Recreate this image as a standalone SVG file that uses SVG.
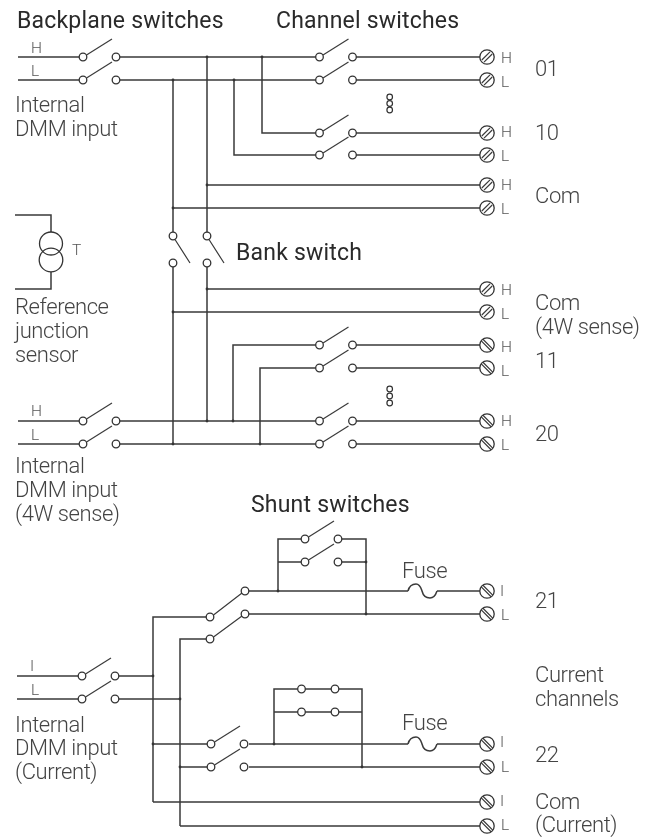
<svg xmlns="http://www.w3.org/2000/svg" xmlns:xlink="http://www.w3.org/1999/xlink" width="652" height="837" viewBox="0 0 652 837" style="will-change:opacity">
<style>
text{font-family:Roboto,"Liberation Sans",sans-serif;fill:#444}
.h{font-size:23px;font-weight:400;fill:#2a2a2a;letter-spacing:.2px}
.t{font-size:22px;font-weight:300;letter-spacing:-.4px}
.s{font-size:15.5px;font-weight:300;fill:#555}
.w,.b{fill:none;stroke:#3a3a3a;stroke-width:1.5}
.b{stroke-width:1.2}
.c{fill:#fff;stroke:#333;stroke-width:1.3}
.d{fill:#333}
.e{fill:#fff;stroke:#333;stroke-width:1.2}
.k{fill:none;stroke:#333;stroke-width:1.3}
</style>
<defs>
<circle id="c" class="c" r="3.8"/>
<circle id="j" class="d" r="1.4"/>
<g id="ta"><circle class="c" r="7.2"/><path class="b" d="M-5.2 3L3-5.200M-3 5.200L5.200-3"/></g>
<g id="tb"><circle class="c" r="7.2"/><path class="b" d="M-4.300-6L6 4.300M-6-4.300L4.300 6"/></g>
<g id="sw"><path class="b" d="M3.500-2L29-18"/><use xlink:href="#c"/><use xlink:href="#c" x="33"/></g>
<path id="fuse" class="w" d="M0 0C1 -4 4 -7 8 -7C12 -7 13 -3 14 0C15 4 18 7 22 7C26 7 28 3 29 0"/>
</defs>
<g id="connectors">
<path class="w" d="M18 57H79M18 80H79M120 57H316M120 80H316M356 57H480M356 80H480M356 133H480M356 155H480M207 185H480M173 208H480M207 289H480M173 312H480M356 345H480M356 368H480M18 421H79M18 444H79M119 421H316M119 444H316M356 421H480M356 444H480"/>
<path class="w" d="M173 80V232M207 57V232M173 267V444M207 267V421M262 57V133H316M234 80V155H316M233 421V345H316M260 444V368H316"/>
<path class="w" d="M15 215H51V232M51 272V289H15"/>
<path class="w" d="M17 676H78M17 699H78M119 676H153M119 699H180M153 802V617H206M180 826V639H206M153 744H207M180 767H207M153 802H480M180 826H480"/>
<path class="w" d="M249 591H408M437 591H480M249 614H480M278 591V539H301M278 562H301M342 539H366V614M342 562H366"/>
<path class="w" d="M249 744H408M437 744H480M249 767H480M274 744V689H298M274 712H298M305 689H331M305 712H331M339 689H362V767M339 712H362"/>
<use xlink:href="#fuse" x="408" y="591"/>
<use xlink:href="#fuse" x="408" y="744"/>
<use xlink:href="#j" x="207" y="57"/><use xlink:href="#j" x="262" y="57"/><use xlink:href="#j" x="173" y="80"/><use xlink:href="#j" x="234" y="80"/>
<use xlink:href="#j" x="207" y="185"/><use xlink:href="#j" x="173" y="208"/><use xlink:href="#j" x="207" y="289"/><use xlink:href="#j" x="173" y="312"/>
<use xlink:href="#j" x="207" y="421"/><use xlink:href="#j" x="233" y="421"/><use xlink:href="#j" x="173" y="444"/><use xlink:href="#j" x="260" y="444"/>
<use xlink:href="#j" x="153" y="676"/><use xlink:href="#j" x="180" y="699"/><use xlink:href="#j" x="153" y="744"/><use xlink:href="#j" x="180" y="767"/>
<use xlink:href="#j" x="278" y="591"/><use xlink:href="#j" x="366" y="562"/><use xlink:href="#j" x="366" y="614"/><use xlink:href="#j" x="274" y="744"/><use xlink:href="#j" x="362" y="767"/>
</g>
<g id="headings">
<text class="h" x="17" y="28">Backplane switches</text>
<text class="h" x="276" y="28">Channel switches</text>
<text class="h" x="236" y="260">Bank switch</text>
<text class="h" x="251" y="512">Shunt switches</text>
</g>
<g id="backplane-top">
<use xlink:href="#sw" x="83" y="57"/><use xlink:href="#sw" x="83" y="80"/>
<text class="s" x="31" y="53">H</text><text class="s" x="31" y="76">L</text>
<text class="t" x="15" y="112">Internal</text><text class="t" x="15" y="136">DMM input</text>
</g>
<g id="channel-01">
<use xlink:href="#sw" x="319.500" y="57"/><use xlink:href="#sw" x="319.500" y="80"/>
<use xlink:href="#ta" x="487" y="57"/><use xlink:href="#ta" x="487" y="80"/>
<text class="s" x="501" y="63">H</text><text class="s" x="501" y="87">L</text>
<text class="t" x="535" y="76">01</text>
</g>
<g id="ellipsis-a"><circle class="e" cx="389.700" cy="97" r="2.800"/><circle class="e" cx="389.700" cy="103.500" r="2.800"/><circle class="e" cx="389.700" cy="110" r="2.800"/></g>
<g id="channel-10">
<use xlink:href="#sw" x="319.500" y="133"/><use xlink:href="#sw" x="319.500" y="155"/>
<use xlink:href="#ta" x="487" y="133"/><use xlink:href="#ta" x="487" y="155"/>
<text class="s" x="501" y="137">H</text><text class="s" x="501" y="161">L</text>
<text class="t" x="535" y="140">10</text>
</g>
<g id="com">
<use xlink:href="#ta" x="487" y="185"/><use xlink:href="#ta" x="487" y="208"/>
<text class="s" x="501" y="190">H</text><text class="s" x="501" y="214">L</text>
<text class="t" x="535" y="203">Com</text>
</g>
<g id="sensor">
<circle class="k" cx="51" cy="243.500" r="11.500"/>
<circle class="k" cx="51" cy="260" r="11.800"/>
<text class="s" x="72" y="255">T</text>
<text class="t" x="15" y="314">Reference</text><text class="t" x="15" y="338">junction</text><text class="t" x="15" y="362">sensor</text>
</g>
<g id="bank-switch">
<path class="b" d="M175 239.500L190 263M209 239.500L224 263"/>
<use xlink:href="#c" x="173" y="236"/><use xlink:href="#c" x="207" y="236"/>
<use xlink:href="#c" x="173" y="263"/><use xlink:href="#c" x="207" y="263"/>
</g>
<g id="com-4w">
<use xlink:href="#ta" x="487" y="289"/><use xlink:href="#ta" x="487" y="312"/>
<text class="s" x="501" y="295">H</text><text class="s" x="501" y="319">L</text>
<text class="t" x="535" y="310">Com</text><text class="t" x="535" y="334">(4W sense)</text>
</g>
<g id="channel-11">
<use xlink:href="#sw" x="319.500" y="345"/><use xlink:href="#sw" x="319.500" y="368"/>
<use xlink:href="#tb" x="487" y="345"/><use xlink:href="#tb" x="487" y="368"/>
<text class="s" x="501" y="352">H</text><text class="s" x="501" y="376">L</text>
<text class="t" x="535" y="368">11</text>
</g>
<g id="ellipsis-b"><circle class="e" cx="389.700" cy="389" r="2.800"/><circle class="e" cx="389.700" cy="396" r="2.800"/><circle class="e" cx="389.700" cy="403" r="2.800"/></g>
<g id="channel-20">
<use xlink:href="#sw" x="319.500" y="421"/><use xlink:href="#sw" x="319.500" y="444"/>
<use xlink:href="#tb" x="487" y="421"/><use xlink:href="#tb" x="487" y="444"/>
<text class="s" x="501" y="426">H</text><text class="s" x="501" y="450">L</text>
<text class="t" x="535" y="441">20</text>
</g>
<g id="backplane-4w">
<use xlink:href="#sw" x="83" y="421"/><use xlink:href="#sw" x="83" y="444"/>
<text class="s" x="31" y="416">H</text><text class="s" x="31" y="440">L</text>
<text class="t" x="15" y="473">Internal</text><text class="t" x="15" y="497">DMM input</text><text class="t" x="15" y="521">(4W sense)</text>
</g>
<g id="shunt-21">
<use xlink:href="#sw" x="305" y="539"/><use xlink:href="#sw" x="305" y="562"/>
<use xlink:href="#c" x="210" y="617"/><use xlink:href="#c" x="210" y="639"/>
<use xlink:href="#c" x="245" y="591"/><use xlink:href="#c" x="245" y="614"/>
<path class="b" d="M213.500 615L242 593M213.500 637L242 616"/>
<text class="t" x="402" y="578">Fuse</text>
<use xlink:href="#tb" x="487" y="591"/><use xlink:href="#tb" x="487" y="614"/>
<text class="s" x="500" y="596">I</text><text class="s" x="501" y="620">L</text>
<text class="t" x="535" y="608">21</text>
</g>
<g id="current-channels"><text class="t" x="535" y="682">Current</text><text class="t" x="535" y="706">channels</text></g>
<g id="backplane-current">
<use xlink:href="#sw" x="82" y="676"/><use xlink:href="#sw" x="82" y="699"/>
<text class="s" x="30" y="671">I</text><text class="s" x="31" y="695">L</text>
<text class="t" x="15" y="732">Internal</text><text class="t" x="15" y="755">DMM input</text><text class="t" x="15" y="779">(Current)</text>
</g>
<g id="shunt-22">
<use xlink:href="#sw" x="211" y="744"/><use xlink:href="#sw" x="211" y="767"/>
<use xlink:href="#c" x="301.500" y="689"/><use xlink:href="#c" x="335" y="689"/>
<use xlink:href="#c" x="301.500" y="712"/><use xlink:href="#c" x="335" y="712"/>
<text class="t" x="402" y="730">Fuse</text>
<use xlink:href="#tb" x="487" y="744"/><use xlink:href="#tb" x="487" y="767"/>
<text class="s" x="500" y="747">I</text><text class="s" x="501" y="772">L</text>
<text class="t" x="535" y="762">22</text>
</g>
<g id="com-current">
<use xlink:href="#tb" x="487" y="802"/><use xlink:href="#tb" x="487" y="826"/>
<text class="s" x="500" y="806">I</text><text class="s" x="501" y="830">L</text>
<text class="t" x="535" y="808.500">Com</text><text class="t" x="535" y="832">(Current)</text>
</g>
</svg>
